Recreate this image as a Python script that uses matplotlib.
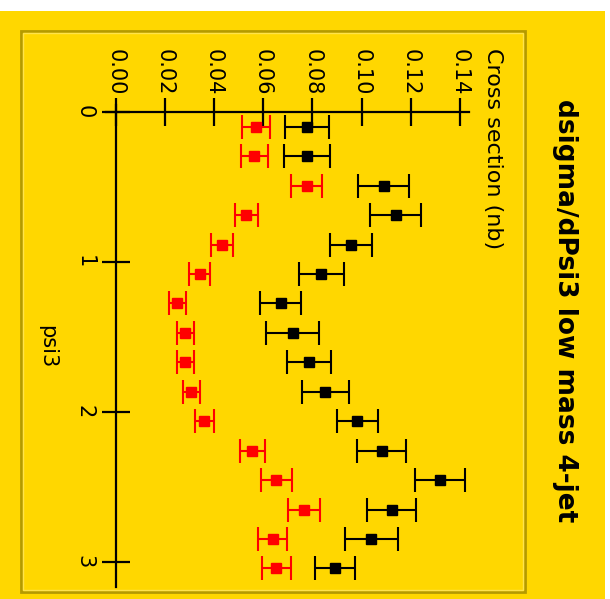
import matplotlib
matplotlib.use("Agg")
import matplotlib.pyplot as plt
from matplotlib.patches import Rectangle

# psi3 bin centres (16 bins over 0..pi)
psi3 = [0.098, 0.295, 0.491, 0.687, 0.884, 1.080, 1.276, 1.473,
        1.669, 1.865, 2.062, 2.258, 2.454, 2.651, 2.847, 3.043]

# cross sections (nb) and errors
black_xs = [0.0778, 0.0778, 0.1090, 0.1139, 0.0957, 0.0837, 0.0671, 0.0720,
            0.0787, 0.0853, 0.0983, 0.1082, 0.1320, 0.1123, 0.1040, 0.0892]
black_err = [0.0091, 0.0095, 0.0103, 0.0104, 0.0087, 0.0091, 0.0083, 0.0108,
             0.0091, 0.0095, 0.0083, 0.0099, 0.0102, 0.0099, 0.0108, 0.0083]
red_xs = [0.0571, 0.0564, 0.0777, 0.0532, 0.0433, 0.0342, 0.0251, 0.0284,
          0.0284, 0.0308, 0.0361, 0.0556, 0.0654, 0.0766, 0.0639, 0.0654]
red_err = [0.0055, 0.0055, 0.0064, 0.0046, 0.0043, 0.0043, 0.0035, 0.0035,
           0.0035, 0.0035, 0.0039, 0.0050, 0.0062, 0.0064, 0.0058, 0.0059]

xs_ticks = [0.00, 0.02, 0.04, 0.06, 0.08, 0.10, 0.12, 0.14]
xs_ticklabels = ["0.00", "0.02", "0.04", "0.06", "0.08", "0.10", "0.12", "0.14"]
psi_ticks = [0, 1, 2, 3]
psi_ticklabels = ["0", "1", "2", "3"]

title = "dsigma/dPsi3 low mass 4-jet"
xs_label = "Cross section (nb)"
psi_label = "psi3"

W, H = 610, 599
DPI = 100
YELLOW = "#FFD700"
BORDER = "#B49A00"

fig = plt.figure(figsize=(W / DPI, H / DPI), dpi=DPI, facecolor="white")

def fx(px):
    return px / W

def fy(py):
    return 1 - py / H

# page background and framed panel
fig.patches.append(Rectangle((0, 0), fx(605), fy(11), transform=fig.transFigure,
                             facecolor=YELLOW, edgecolor="none", zorder=-2))
fig.patches.append(Rectangle((fx(21), fy(592)), fx(525) - fx(21), fy(31) - fy(592),
                             transform=fig.transFigure, facecolor="none",
                             edgecolor=BORDER, linewidth=2.0, zorder=-1))
fig.patches.append(Rectangle((fx(23), fy(590)), fx(523) - fx(23), fy(33) - fy(590),
                             transform=fig.transFigure, facecolor="none",
                             edgecolor="#FFE34A", linewidth=1.0, zorder=-1))

# axes: cross section runs left->right, psi3 runs top->bottom
x0_px, x1_px = 105.7, 468.5
y0_px, y1_px = 105.0, 587.0
ax = fig.add_axes([fx(x0_px), fy(y1_px), fx(x1_px) - fx(x0_px), fy(y0_px) - fy(y1_px)])
ax.set_zorder(2)
ax.patch.set_visible(False)
ax.set_xlim(-0.004, 0.1435)
ax.set_ylim(3.167, -0.047)

for s in ("right", "bottom"):
    ax.spines[s].set_visible(False)
ax.spines["top"].set_position(("data", 0))
ax.spines["left"].set_position(("data", 0))
for s in ("top", "left"):
    ax.spines[s].set_linewidth(1.6)
    ax.spines[s].set_color("black")

ax.xaxis.set_ticks_position("top")
ax.set_xticks(xs_ticks)
ax.set_xticklabels(xs_ticklabels, rotation=-90, fontsize=15)
ax.set_yticks(psi_ticks)
ax.set_yticklabels(psi_ticklabels, rotation=-90, fontsize=15, va="center")
ax.tick_params(axis="x", direction="inout", length=20, width=1.6, pad=2)
ax.tick_params(axis="y", direction="inout", length=20, width=1.6, pad=5)

eb = dict(fmt="s", markersize=6.5, capsize=8.5, elinewidth=1.5, capthick=1.5,
          clip_on=False, zorder=3)
ax.errorbar(black_xs, psi3, xerr=black_err, color="black", **eb)
ax.errorbar(red_xs, psi3, xerr=red_err, color="#FF0000", **eb)

fig.text(fx(565), fy(311), title, rotation=-90, fontsize=19, fontweight="bold",
         ha="center", va="center")
fig.text(fx(493), fy(48), xs_label, rotation=-90, fontsize=16,
         ha="center", va="top")
fig.text(fx(47), fy(347), psi_label, rotation=-90, fontsize=15,
         ha="center", va="center")

fig.savefig("out.png", dpi=DPI, facecolor="white")
